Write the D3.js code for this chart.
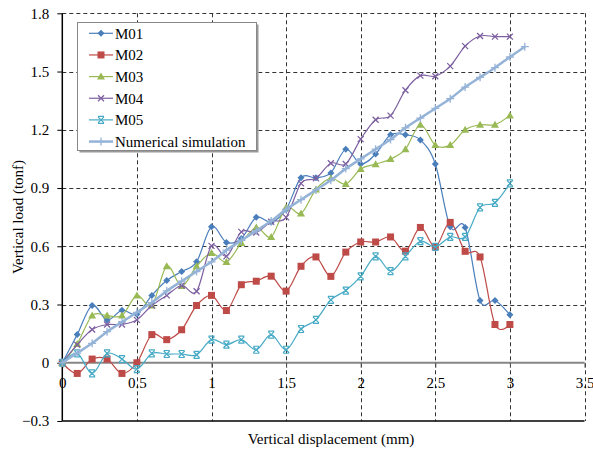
<!DOCTYPE html>
<html><head><meta charset="utf-8">
<script src="https://cdn.jsdelivr.net/npm/d3@7"></script>
<style>body{margin:0;background:#fff}svg{display:block}text{font-family:"Liberation Serif","Times New Roman",serif;fill:#000}</style>
</head><body><svg id="c" width="593" height="450"></svg>
<script>
const displacement = [0,0.1,0.2,0.3,0.4,0.5,0.6,0.7,0.8,0.9,1.0,1.1,1.2,1.3,1.4,1.5,1.6,1.7,1.8,1.9,2.0,2.1,2.2,2.3,2.4,2.5,2.6,2.7,2.8,2.9,3.0];
const simDisplacement = [0,0.1,0.2,0.3,0.4,0.5,0.6,0.7,0.8,0.9,1.0,1.1,1.2,1.3,1.4,1.5,1.6,1.7,1.8,1.9,2.0,2.1,2.2,2.3,2.4,2.5,2.6,2.7,2.8,2.9,3.0,3.1];
const M01 = [0,0.145,0.295,0.22,0.27,0.25,0.347,0.424,0.47,0.52,0.70,0.62,0.64,0.749,0.724,0.79,0.953,0.953,0.978,1.10,1.024,1.075,1.174,1.174,1.148,1.024,0.70,0.697,0.321,0.321,0.247];
const M02 = [0,-0.055,0.019,0.019,-0.055,0,0.145,0.119,0.17,0.295,0.347,0.269,0.402,0.42,0.446,0.369,0.497,0.545,0.445,0.57,0.622,0.622,0.648,0.575,0.697,0.597,0.723,0.574,0.545,0.197,0.197];
const M03 = [0,0.097,0.243,0.243,0.243,0.347,0.295,0.497,0.395,0.497,0.565,0.519,0.617,0.697,0.648,0.80,0.769,0.893,0.95,0.921,0.998,1.023,1.049,1.10,1.226,1.121,1.121,1.20,1.226,1.226,1.274];
const M04 = [0,0.093,0.171,0.197,0.197,0.221,0.295,0.347,0.398,0.368,0.602,0.548,0.674,0.671,0.726,0.749,0.924,0.95,1.028,1.024,1.152,1.252,1.273,1.404,1.479,1.476,1.528,1.631,1.683,1.68,1.68];
const M05 = [0,0.048,-0.055,0.048,0.019,-0.033,0.048,0.045,0.045,0.041,0.119,0.093,0.119,0.067,0.145,0.067,0.174,0.221,0.324,0.372,0.445,0.548,0.472,0.548,0.626,0.597,0.648,0.648,0.80,0.824,0.924];
const simulation = [0,0.05,0.10,0.16,0.21,0.26,0.31,0.37,0.42,0.47,0.52,0.58,0.63,0.68,0.73,0.79,0.84,0.89,0.94,1.00,1.05,1.10,1.15,1.21,1.26,1.31,1.36,1.42,1.47,1.52,1.575,1.628];
const seriesNames = ["M01","M02","M03","M04","M05","Numerical simulation"];
const seriesColors = ["#4A7EBB","#BE4B48","#98B954","#7D60A0","#46AAC5","#95B3D7"];
const seriesMarkers = ["diamond","square","triangle","x","star","plus"];
const xTicks = [0,0.5,1,1.5,2,2.5,3,3.5];
const yTicks = [-0.3,0,0.3,0.6,0.9,1.2,1.5,1.8];

const svg = d3.select("#c");
const L = 62.3, R = 584.5, T = 13.3, B = 421;
const x = d3.scaleLinear().domain([0,3.5]).range([L,R]);
const y = d3.scaleLinear().domain([-0.3,1.8]).range([B,T]);
const FS = 15;

// gridlines
const grid = svg.append("g").attr("stroke","#333").attr("stroke-width",1).attr("stroke-dasharray","4,3");
xTicks.filter(d=>d>0).forEach(d=>grid.append("line").attr("x1",Math.round(x(d))+0.5).attr("x2",Math.round(x(d))+0.5).attr("y1",T).attr("y2",B));
yTicks.filter(d=>d>0).forEach(d=>grid.append("line").attr("x1",L).attr("x2",R).attr("y1",Math.round(y(d))+0.5).attr("y2",Math.round(y(d))+0.5));

// zero line (horizontal axis)
svg.append("line").attr("x1",L).attr("x2",R).attr("y1",y(0)).attr("y2",y(0)).attr("stroke","#868686").attr("stroke-width",2);
const xAxis = d3.axisBottom(x).tickValues(xTicks).tickSize(5).tickFormat(d3.format("~g"));
const gx = svg.append("g").attr("transform",`translate(0,${y(0)})`).call(xAxis);
gx.select(".domain").remove();
gx.selectAll(".tick line").attr("stroke","#555");
gx.selectAll(".tick text").attr("font-size",FS).attr("y",14.6).attr("dy","0.71em").style("font-family","Liberation Serif");

// bottom solid line
svg.append("line").attr("x1",L).attr("x2",R).attr("y1",B).attr("y2",B).attr("stroke","#000").attr("stroke-width",1.5);

// y axis
const yAxis = d3.axisLeft(y).tickValues(yTicks).tickSize(5).tickPadding(8).tickFormat(d3.format("~g"));
const gy = svg.append("g").attr("transform",`translate(${L},0)`).call(yAxis);
gy.select(".domain").attr("stroke","#000").attr("stroke-width",1.5).attr("d",`M0,${T}V${B}`);
gy.selectAll(".tick line").attr("stroke","#000");
gy.selectAll(".tick text").attr("font-size",FS).style("font-family","Liberation Serif");

// axis titles
svg.append("text").attr("x",331).attr("y",444).attr("text-anchor","middle").attr("font-size",FS).text("Vertical displacement (mm)");
svg.append("text").attr("transform","translate(22.5,217) rotate(-90)").attr("text-anchor","middle").attr("font-size",FS).text("Vertical load (tonf)");

function marker(g, type, color, cx, cy){
  if(type==="diamond") g.append("path").attr("d",`M${cx},${cy-3.5}L${cx+3.5},${cy}L${cx},${cy+3.5}L${cx-3.5},${cy}Z`).attr("fill",color);
  else if(type==="square") g.append("rect").attr("x",cx-3.5).attr("y",cy-3.5).attr("width",7).attr("height",7).attr("fill",color);
  else if(type==="triangle") g.append("path").attr("d",`M${cx},${cy-4}L${cx+4},${cy+3}L${cx-4},${cy+3}Z`).attr("fill",color);
  else if(type==="x") g.append("path").attr("d",`M${cx-3},${cy-3}L${cx+3},${cy+3}M${cx-3},${cy+3}L${cx+3},${cy-3}`).attr("stroke",color).attr("stroke-width",1.3);
  else if(type==="star") g.append("path").attr("d",`M${cx-3},${cy-3}L${cx+3},${cy+3}M${cx-3},${cy+3}L${cx+3},${cy-3}M${cx-3},${cy-3.5}H${cx+3}M${cx-3},${cy+3.5}H${cx+3}`).attr("stroke",color).attr("stroke-width",1.2);
  else if(type==="plus") g.append("path").attr("d",`M${cx-4},${cy}H${cx+4}M${cx},${cy-4}V${cy+4}`).attr("stroke",color).attr("stroke-width",1.3);
}

const allSeries = [
  {xs:displacement, ys:M01},{xs:displacement, ys:M02},{xs:displacement, ys:M03},
  {xs:displacement, ys:M04},{xs:displacement, ys:M05},{xs:simDisplacement, ys:simulation}
];
const line = d3.line().curve(d3.curveCatmullRom.alpha(0)).x(d=>x(d[0])).y(d=>y(d[1]));
allSeries.forEach((s,i)=>{
  const pts = s.xs.map((v,j)=>[v,s.ys[j]]);
  const g = svg.append("g");
  g.append("path").attr("d",line(pts)).attr("fill","none").attr("stroke",seriesColors[i]).attr("stroke-width", i===5?2.5:1.2);
  pts.forEach(p=>marker(g, seriesMarkers[i], seriesColors[i], x(p[0]), y(p[1])));
});

// legend
const lg = svg.append("g");
lg.append("rect").attr("x",79.5).attr("y",24.5).attr("width",179).attr("height",128).attr("fill","#999");
lg.append("rect").attr("x",77.5).attr("y",22.5).attr("width",179).attr("height",128).attr("fill","#fff").attr("stroke","#888").attr("stroke-width",1);
seriesNames.forEach((n,i)=>{
  const cy = 33.3 + i*21.65;
  lg.append("line").attr("x1",89).attr("x2",113).attr("y1",cy).attr("y2",cy).attr("stroke",seriesColors[i]).attr("stroke-width", i===5?2.5:1.2);
  marker(lg, seriesMarkers[i], seriesColors[i], 101, cy);
  lg.append("text").attr("x",115).attr("y",cy).attr("dy","0.35em").attr("font-size",FS).text(n);
});
</script></body></html>
